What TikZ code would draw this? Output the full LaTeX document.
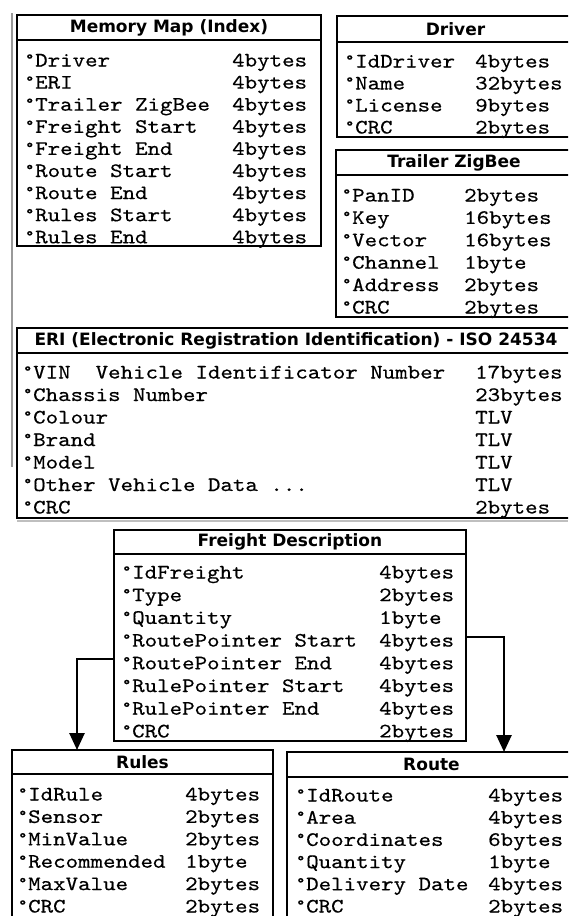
\documentclass[tikz,border=0pt]{standalone}
\usepackage{fontspec}
\setmonofont{lmmono10-regular.otf}[FakeStretch=1.16,FakeBold=0.4]
\newfontfamily\hdrfont{DejaVu Sans}
\usetikzlibrary{arrows.meta}
\tikzset{
  tbox/.style={draw=black, line width=2.6pt, anchor=north west, inner sep=0pt, outer sep=0pt, fill=white},
  ttl/.style={font=\hdrfont\bfseries\fontsize{17}{17}\selectfont, inner sep=0pt},
  fld/.style={font=\ttfamily\fontsize{20.5}{21}\selectfont, anchor=base west, inner sep=0pt},
  sepline/.style={line width=2.2pt},
  conn/.style={line width=2.6pt, -{Triangle[width=15pt,length=17pt]}},
  scanline/.style={draw=black!40, line width=1.2pt},
}
\newcommand\dgr{\makebox[10pt][l]{\raisebox{3pt}{\fontsize{15}{15}\selectfont °}}}
\newcommand\tdots{.{}.{}.}
% name, x1, y1, x2, y2, header height, title
\newcommand\tablebox[7]{%
  \node[tbox, minimum width={#4-#2}, minimum height={#5-#3}] (#1) at (#2,#3) {};
  \draw[sepline] ([yshift=-#6pt]#1.north west) -- ([yshift=-#6pt]#1.north east);
  \node[ttl] (#1-t) at ([yshift=-#6pt/2]#1.north) {#7};
}
% prefix, name x, value x, first row y, row step, list
\newcommand\fields[6]{%
  \foreach \a/\b [count=\i from 0] in {#6} {
    \node[fld] (#1-n\i) at ({#2-10},{#4+#5*\i+5.5}) {\dgr\a};
    \node[fld] (#1-v\i) at (#3,{#4+#5*\i+5.5}) {\b};
  }%
}
\begin{document}
\begin{tikzpicture}[x=1pt,y=-1pt]
\useasboundingbox (0,0) rectangle (568,916);
\clip (0,0) rectangle (568,916);
\fill[white] (0,0) rectangle (568,916);

\coordinate (g1) at (12,13);
\coordinate (g2) at (12,467);
\draw[scanline] (g1) -- (g2);

% Memory Map
\tablebox{mm}{17}{15}{321}{246}{25}{Memory Map (Index)}
\fields{mm}{35}{232}{61}{22.1}{Driver/4bytes,ERI/4bytes,Trailer ZigBee/4bytes,Freight Start/4bytes,Freight End/4bytes,Route Start/4bytes,Route End/4bytes,Rules Start/4bytes,Rules End/4bytes}

% Driver
\tablebox{drv}{337}{16}{574}{137}{26}{Driver}
\fields{drv}{355}{475}{62}{22}{IdDriver/4bytes,Name/32bytes,License/9bytes,CRC/2bytes}

% Trailer ZigBee
\tablebox{tz}{336}{150}{572}{317}{25}{Trailer ZigBee}
\fields{tz}{352}{464}{196}{22.4}{PanID/2bytes,Key/16bytes,Vector/16bytes,Channel/1byte,Address/2bytes,CRC/2bytes}

% ERI
\coordinate (g3) at (17,521);
\coordinate (g4) at (568,521);
\draw[scanline,draw=black!25] (g3) -- (g4);
\tablebox{eri}{17}{328}{575}{518}{25}{ERI (Electronic Registration Identification) - ISO 24534}
\fields{eri}{33}{475}{373}{22.5}{VIN\ \ Vehicle Identificator Number/17bytes,Chassis Number/23bytes,Colour/TLV,Brand/TLV,Model/TLV,Other Vehicle Data \tdots/TLV,CRC/2bytes}

% Freight Description
\tablebox{fd}{114}{530}{466}{741}{24}{Freight Description}
\fields{fd}{132}{379}{573}{22.7}{IdFreight/4bytes,Type/2bytes,Quantity/1byte,RoutePointer Start/4bytes,RoutePointer End/4bytes,RulePointer Start/4bytes,RulePointer End/4bytes,CRC/2bytes}

% Rules
\tablebox{rules}{12}{750}{273}{922}{24}{Rules}
\fields{rules}{28}{185}{795}{22.4}{IdRule/4bytes,Sensor/2bytes,MinValue/2bytes,Recommended/1byte,MaxValue/2bytes,CRC/2bytes}

% Route
\tablebox{route}{287}{752}{576}{922}{25}{Route}
\fields{route}{306}{488}{796}{22.2}{IdRoute/4bytes,Area/4bytes,Coordinates/6bytes,Quantity/1byte,Delivery Date/4bytes,CRC/2bytes}

% connectors
\coordinate (la) at (77,659);
\coordinate (ra) at (504,637);
\draw[conn] (fd.west |- la) -| (rules.north -| la);
\draw[conn] (fd.east |- ra) -| (route.north -| ra);
\end{tikzpicture}
\end{document}
